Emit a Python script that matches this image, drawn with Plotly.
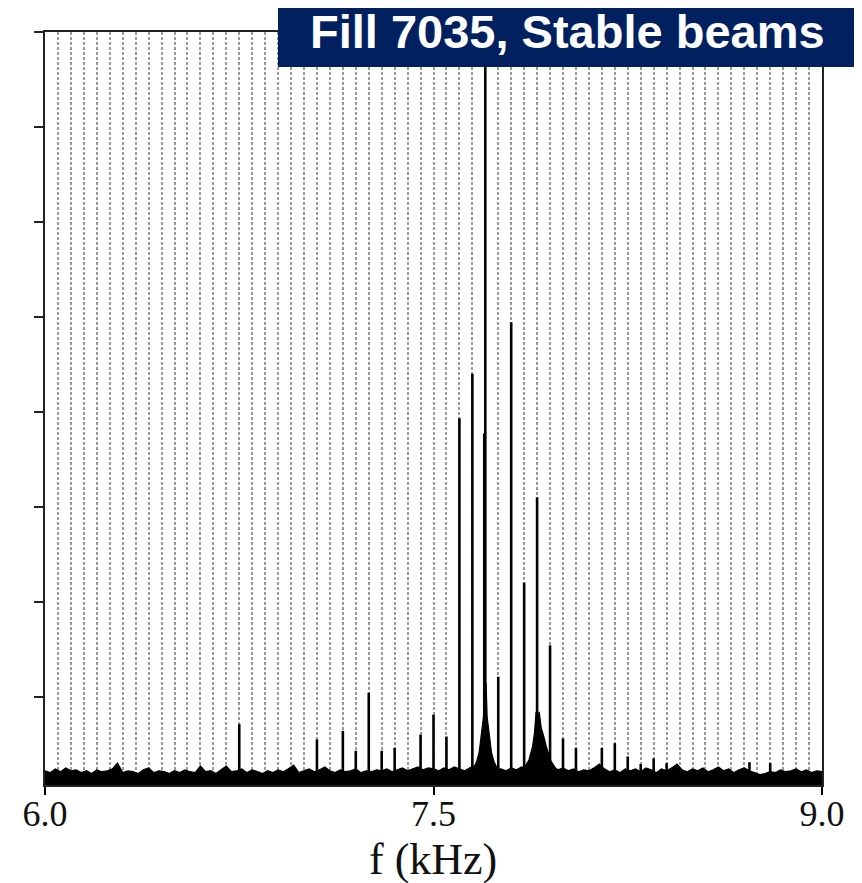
import plotly.graph_objects as go

# ---------------- data ----------------
# noise floor of the spectrum, read every 0.02 kHz from 6.00 to 9.00 kHz
noise_f = [round(6.0 + 0.02 * i, 2) for i in range(151)]
noise_level = [
    0.15, 0.13, 0.17, 0.14, 0.18, 0.15, 0.16, 0.13, 0.15, 0.12,
    0.16, 0.14, 0.15, 0.17, 0.23, 0.13, 0.15, 0.14, 0.12, 0.16,
    0.18, 0.13, 0.15, 0.14, 0.12, 0.15, 0.13, 0.16, 0.14, 0.13,
    0.20, 0.14, 0.15, 0.12, 0.16, 0.20, 0.14, 0.15, 0.17, 0.13,
    0.16, 0.14, 0.12, 0.15, 0.13, 0.16, 0.14, 0.17, 0.21, 0.13,
    0.15, 0.17, 0.14, 0.16, 0.19, 0.15, 0.13, 0.16, 0.14, 0.15,
    0.17, 0.13, 0.15, 0.14, 0.16, 0.15, 0.17, 0.14, 0.16, 0.18,
    0.15, 0.17, 0.19, 0.16, 0.18, 0.17, 0.15, 0.18, 0.16, 0.19,
    0.17, 0.15, 0.18, 0.20, 0.18, 0.20, 0.18, 0.16, 0.17, 0.15,
    0.18, 0.16, 0.19, 0.17, 0.20, 0.22, 0.19, 0.17, 0.20, 0.16,
    0.18, 0.15, 0.17, 0.14, 0.16, 0.15, 0.18, 0.22, 0.17, 0.14,
    0.16, 0.13, 0.17, 0.15, 0.17, 0.14, 0.18, 0.16, 0.13, 0.17,
    0.15, 0.18, 0.22, 0.16, 0.14, 0.17, 0.15, 0.18, 0.14, 0.16,
    0.19, 0.15, 0.17, 0.13, 0.16, 0.18, 0.15, 0.13, 0.11, 0.12,
    0.14, 0.13, 0.16, 0.14, 0.15, 0.17, 0.14, 0.16, 0.13, 0.15,
    0.14,
]

# broad pedestals under the strongest lines
pedestal1_f = [7.655, 7.667, 7.676, 7.684, 7.693, 7.697, 7.703, 7.707, 7.716, 7.724, 7.733, 7.745]
pedestal1_v = [0.18, 0.25, 0.34, 0.50, 0.72, 1.07, 1.07, 0.72, 0.50, 0.34, 0.25, 0.18]
pedestal2_f = [7.850, 7.868, 7.882, 7.890, 7.896, 7.902, 7.908, 7.916, 7.925, 7.936, 7.952, 7.970]
pedestal2_v = [0.18, 0.26, 0.40, 0.55, 0.77, 0.70, 0.77, 0.60, 0.52, 0.40, 0.26, 0.18]

# discrete spectral lines (kHz, amplitude in arbitrary units)
peak_f = [6.75, 7.05, 7.15, 7.20, 7.25, 7.30, 7.35, 7.45, 7.50, 7.55,
          7.60, 7.65, 7.696, 7.70, 7.75, 7.80, 7.85, 7.90, 7.95, 8.00,
          8.05, 8.15, 8.20, 8.25, 8.30, 8.35, 8.40, 8.72, 8.80]
peak_v = [0.64, 0.48, 0.57, 0.36, 0.97, 0.36, 0.39, 0.53, 0.74, 0.51,
          3.86, 4.33, 3.70, 9.00, 1.14, 4.87, 2.13, 3.03, 1.47, 0.49,
          0.39, 0.39, 0.44, 0.30, 0.22, 0.28, 0.23, 0.24, 0.23]

x_ticks = [6.0, 7.5, 9.0]
x_ticklabels = ["6.0", "7.5", "9.0"]
y_ticks = [0.926 + k for k in range(8)]
title_text = "Fill 7035, Stable beams"
x_title = "f (kHz)"

# ---------------- figure ----------------
fig = go.Figure()

for fx, fy in [(noise_f, noise_level), (pedestal1_f, pedestal1_v), (pedestal2_f, pedestal2_v)]:
    fig.add_trace(go.Scatter(x=fx, y=fy, mode="lines",
                             line=dict(color="black", width=1.2),
                             fill="tozeroy", fillcolor="black", hoverinfo="skip"))

px, py = [], []
for f, v in zip(peak_f, peak_v):
    px += [f, f, None]
    py += [0, v, None]
fig.add_trace(go.Scatter(x=px, y=py, mode="lines",
                         line=dict(color="black", width=2.6), hoverinfo="skip"))

grid_style = dict(showgrid=True, gridcolor="#999999", griddash="3px,2px", gridwidth=1.5)

# the page body adds an 8 px offset; the figure is sized so the plot area
# lands at x 45..822, y 32..785 in the window
fig.update_layout(
    width=854, height=875, autosize=False,
    margin=dict(l=37, r=40, t=24, b=98),
    paper_bgcolor="white", plot_bgcolor="white",
    showlegend=False,
    xaxis=dict(
        range=[6.0, 9.0], tickvals=x_ticks, ticktext=x_ticklabels,
        ticks="outside", ticklen=8, tickwidth=1.5, tickcolor="black",
        showline=True, linecolor="#222", linewidth=1.5, mirror=True,
        zeroline=False, automargin=False, ticklabelstandoff=-12,
        tickfont=dict(family="Liberation Serif", size=36, color="#111"),
        minor=dict(dtick=0.05, tick0=6.0, **grid_style),
        **grid_style,
    ),
    yaxis=dict(
        range=[0, 7.926], tickvals=y_ticks, showticklabels=False,
        ticks="outside", ticklen=9, tickwidth=1.5, tickcolor="#222",
        showline=True, linecolor="#222", linewidth=1.5, mirror=True,
        showgrid=False, zeroline=False, automargin=False,
    ),
)

# x-axis title
fig.add_annotation(xref="paper", yref="paper",
                   x=(433 - 45) / 777, y=(785 - 860) / 753,
                   xanchor="center", yanchor="middle", showarrow=False,
                   text=x_title,
                   font=dict(family="Liberation Serif", size=44, color="#111"))

# navy title banner
fig.add_shape(type="rect", xref="paper", yref="paper",
              x0=(278 - 45) / 777, x1=(862 - 45) / 777,
              y0=(785 - 67) / 753, y1=(785 + 5) / 753,
              fillcolor="#002060", line=dict(width=0), layer="above")
fig.add_annotation(xref="paper", yref="paper",
                   x=(567 - 45) / 777, y=(785 - 31) / 753,
                   xanchor="center", yanchor="middle", showarrow=False,
                   borderpad=0,
                   text="<b>" + title_text + "</b>",
                   font=dict(family="Liberation Sans", size=47, color="white"))

fig.write_html("out.html")
